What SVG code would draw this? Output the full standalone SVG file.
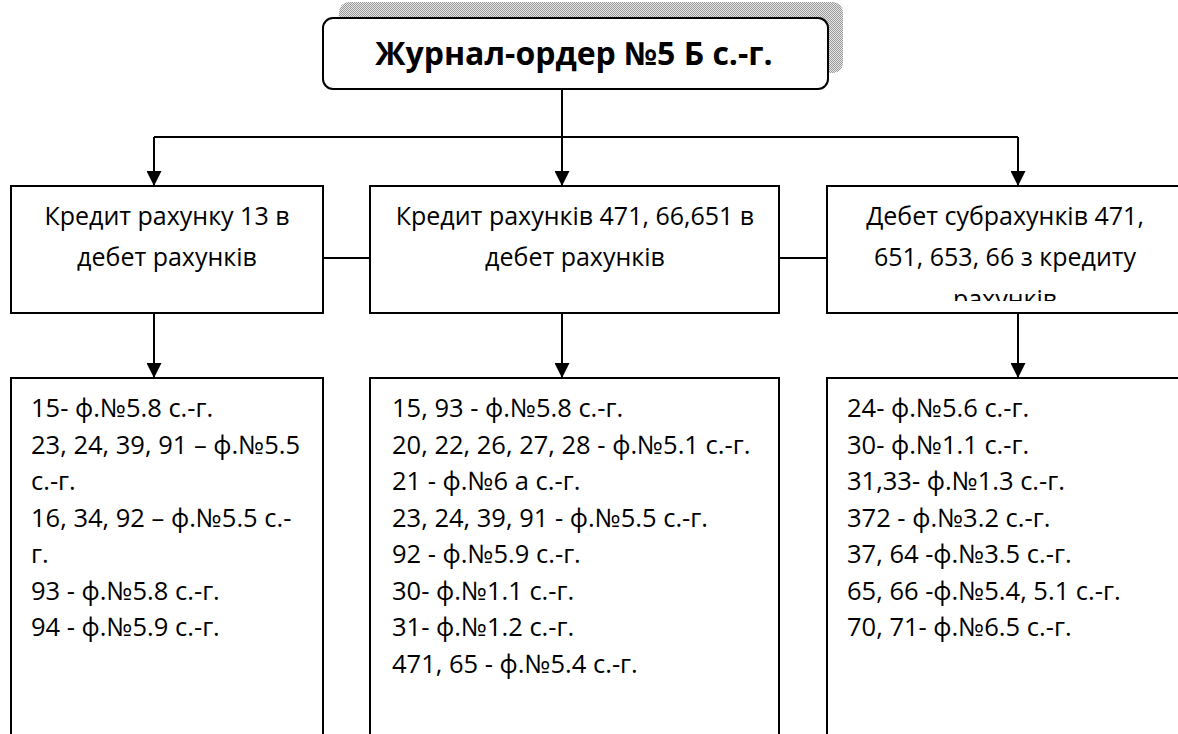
<svg xmlns="http://www.w3.org/2000/svg" width="1178" height="734" viewBox="0 0 1178 734">
<style>
.box{fill:#fff;stroke:#000;stroke-width:2}
.ln{fill:none;stroke:#000;stroke-width:2}
.t{font-family:"Open Sans","Noto Sans",sans-serif;font-size:25.5px;fill:#000}
.h{text-anchor:middle;font-size:25px}
.title{font-family:"Open Sans","Noto Sans",sans-serif;font-size:32px;font-weight:bold;fill:#000;text-anchor:middle}
</style>
<defs>
<pattern id="dots" width="2" height="2" patternUnits="userSpaceOnUse">
<rect width="2" height="2" fill="#e6e6e6"/>
<rect width="1" height="1" fill="#999"/>
<rect x="1" y="1" width="1" height="1" fill="#999"/>
</pattern>
<marker id="arr" markerWidth="16" markerHeight="15" refX="16" refY="8" orient="auto" markerUnits="userSpaceOnUse" viewBox="0 0 16 16">
<path d="M0,0 L16,8 L0,16 Z" fill="#000"/>
</marker>
<clipPath id="clip3"><rect x="828" y="187" width="360" height="114"/></clipPath>
</defs>

<g id="title">
<rect x="339" y="2" width="504" height="71" rx="10" fill="url(#dots)"/>
<rect class="box" x="323" y="18" width="505" height="71" rx="10"/>
<text class="title" x="574" y="65">Журнал-ордер №5 Б с.-г.</text>
</g>

<g id="connectors">
<path class="ln" d="M562,89 V137"/>
<path class="ln" d="M154,137 H1018"/>
<path class="ln" d="M154,137 V186" marker-end="url(#arr)"/>
<path class="ln" d="M562,137 V186" marker-end="url(#arr)"/>
<path class="ln" d="M1018,137 V186" marker-end="url(#arr)"/>
<path class="ln" d="M323,258 H370"/>
<path class="ln" d="M779,258 H827"/>
<path class="ln" d="M154,313 V378" marker-end="url(#arr)"/>
<path class="ln" d="M562,313 V378" marker-end="url(#arr)"/>
<path class="ln" d="M1018,313 V378" marker-end="url(#arr)"/>
</g>

<g id="h1">
<rect class="box" x="11" y="186" width="312" height="127"/>
<text class="t h" x="167" y="225">Кредит рахунку 13 в</text>
<text class="t h" x="167" y="266">дебет рахунків</text>
</g>

<g id="h2">
<rect class="box" x="370" y="186" width="409" height="127"/>
<text class="t h" x="575" y="225">Кредит рахунків 471, 66,651 в</text>
<text class="t h" x="575" y="266">дебет рахунків</text>
</g>

<g id="h3">
<rect class="box" x="827" y="186" width="360" height="127"/>
<g clip-path="url(#clip3)">
<text class="t h" x="1005" y="225">Дебет субрахунків 471,</text>
<text class="t h" x="1005" y="266">651, 653, 66 з кредиту</text>
<text class="t h" x="1005" y="308">рахунків</text>
</g>
</g>

<g id="b1">
<rect class="box" x="11" y="378" width="312" height="370"/>
<text class="t" x="31" y="417">15- ф.№5.8 с.-г.</text>
<text class="t" x="31" y="453.5">23, 24, 39, 91 – ф.№5.5</text>
<text class="t" x="31" y="490">с.-г.</text>
<text class="t" x="31" y="526.5">16, 34, 92 – ф.№5.5 с.-</text>
<text class="t" x="31" y="563">г.</text>
<text class="t" x="31" y="599.5">93 - ф.№5.8 с.-г.</text>
<text class="t" x="31" y="636">94 - ф.№5.9 с.-г.</text>
</g>

<g id="b2">
<rect class="box" x="370" y="378" width="409" height="370"/>
<text class="t" x="392" y="417">15, 93 - ф.№5.8 с.-г.</text>
<text class="t" x="392" y="453.5">20, 22, 26, 27, 28 - ф.№5.1 с.-г.</text>
<text class="t" x="392" y="490">21 - ф.№6 а с.-г.</text>
<text class="t" x="392" y="526.5">23, 24, 39, 91 - ф.№5.5 с.-г.</text>
<text class="t" x="392" y="563">92 - ф.№5.9 с.-г.</text>
<text class="t" x="392" y="599.5">30- ф.№1.1 с.-г.</text>
<text class="t" x="392" y="636">31- ф.№1.2 с.-г.</text>
<text class="t" x="392" y="672.5">471, 65 - ф.№5.4 с.-г.</text>
</g>

<g id="b3">
<rect class="box" x="827" y="378" width="360" height="370"/>
<text class="t" x="847" y="417">24- ф.№5.6 с.-г.</text>
<text class="t" x="847" y="453.5">30- ф.№1.1 с.-г.</text>
<text class="t" x="847" y="490">31,33- ф.№1.3 с.-г.</text>
<text class="t" x="847" y="526.5">372 - ф.№3.2 с.-г.</text>
<text class="t" x="847" y="563">37, 64 -ф.№3.5 с.-г.</text>
<text class="t" x="847" y="599.5">65, 66 -ф.№5.4, 5.1 с.-г.</text>
<text class="t" x="847" y="636">70, 71- ф.№6.5 с.-г.</text>
</g>
</svg>
